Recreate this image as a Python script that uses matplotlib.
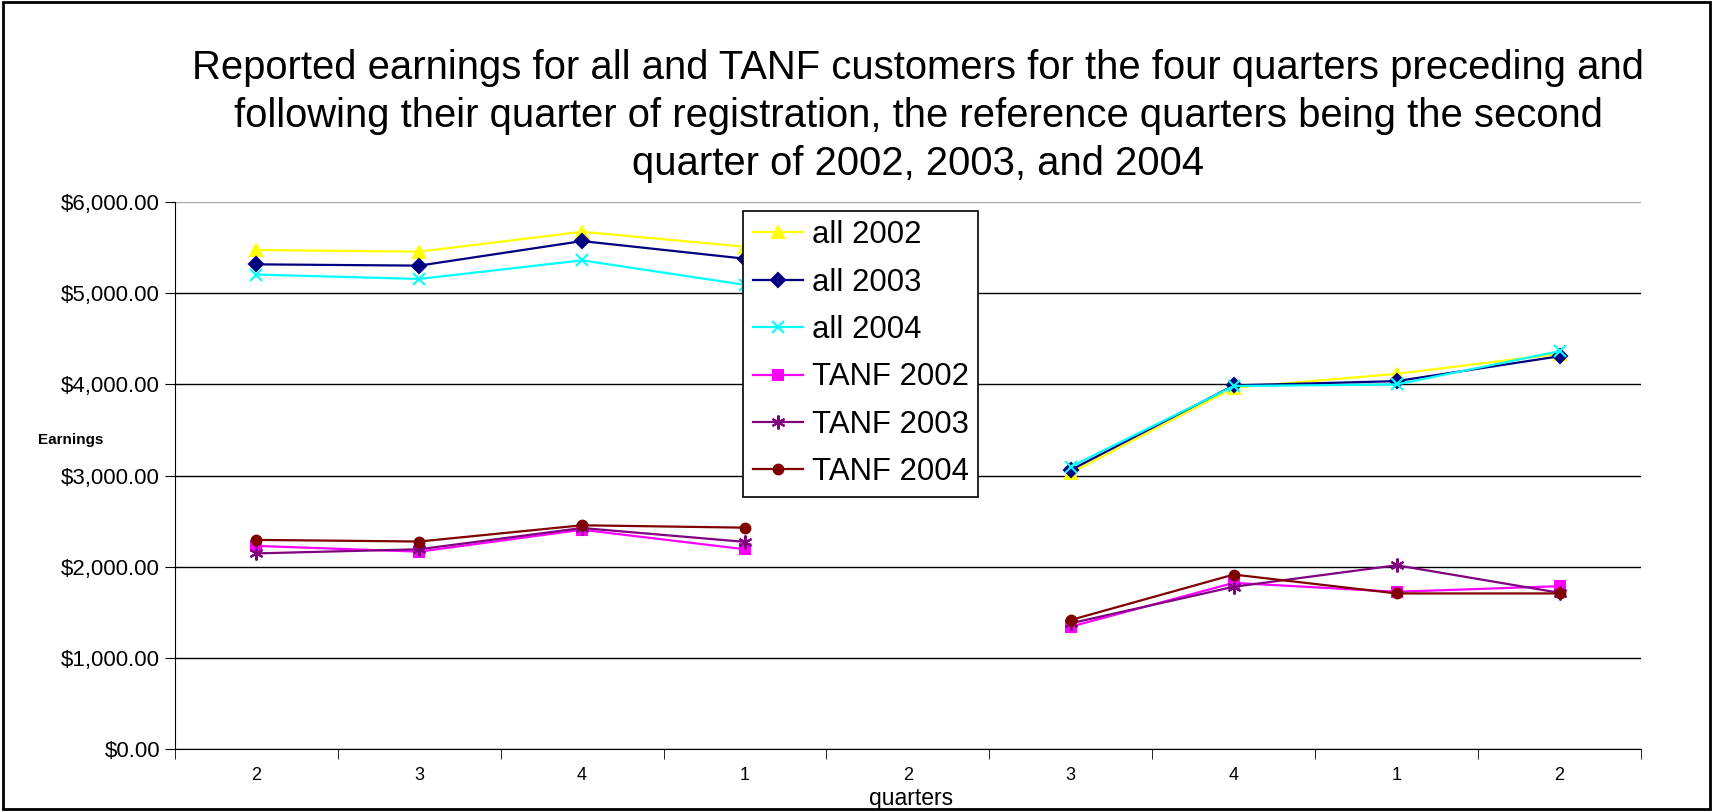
import numpy as np
import matplotlib.pyplot as plt
from matplotlib.ticker import FuncFormatter, FixedLocator

plt.rcParams['font.family'] = ['Liberation Sans', 'DejaVu Sans']

quarters = ['2', '3', '4', '1', '2', '3', '4', '1', '2']
nan = np.nan
all_2002 = [5473, 5455, 5673, 5509, nan, 3030, 3964, 4116, 4335]
all_2003 = [5316, 5302, 5571, 5378, nan, 3062, 3989, 4036, 4309]
all_2004 = [5204, 5156, 5360, 5091, nan, 3098, 3982, 4000, 4364]
tanf_2002 = [2230, 2167, 2407, 2193, nan, 1345, 1825, 1727, 1789]
tanf_2003 = [2148, 2193, 2426, 2274, nan, 1382, 1782, 2018, 1716]
tanf_2004 = [2296, 2278, 2456, 2430, nan, 1418, 1916, 1709, 1709]

series = [
    ('all 2002', all_2002, '#FFFF00', '^', 9),
    ('all 2003', all_2003, '#000080', 'D', 7),
    ('all 2004', all_2004, '#00FFFF', 'x', 9),
    ('TANF 2002', tanf_2002, '#FF00FF', 's', 7),
    ('TANF 2003', tanf_2003, '#800080', (6, 2, 0), 10),
    ('TANF 2004', tanf_2004, '#800000', 'o', 7),
]

fig = plt.figure(figsize=(17.13, 8.11), dpi=100)
ax = fig.add_axes([0.102, 0.076, 0.856, 0.675])

x = np.arange(len(quarters))
for name, vals, col, mk, ms in series:
    ax.plot(x, vals, color=col, marker=mk, markersize=ms, lw=1.6,
            markeredgewidth=1.5, label=name)

ax.set_xlim(-0.5, len(quarters) - 0.5)
ax.set_ylim(0, 6000)
ax.set_yticks(np.arange(0, 6001, 1000))
ax.yaxis.set_major_formatter(FuncFormatter(lambda v, p: f'${v:,.2f}'))
ax.grid(axis='y', color='black', lw=1)
ax.get_ygridlines()[-1].set_color('#aaaaaa')
ax.set_axisbelow(True)

ax.set_xticks(x)
ax.set_xticklabels(quarters, fontsize=13)
ax.xaxis.set_minor_locator(FixedLocator(np.arange(-0.5, len(quarters), 1)))
ax.tick_params(axis='x', which='major', length=0, pad=13)
ax.tick_params(axis='x', which='minor', length=7, color='black')
ax.tick_params(axis='y', labelsize=16, length=7, color='black')

for s in ['top', 'right']:
    ax.spines[s].set_visible(False)
ax.spines['left'].set_color('black')
ax.spines['bottom'].set_color('black')

fig.text(0.532, 0.015, 'quarters', fontsize=16.5, ha='center', va='center')
fig.text(0.022, 0.457, 'Earnings', fontsize=11, fontweight='bold', va='center')

fig.text(0.536, 0.857, 'Reported earnings for all and TANF customers for the four quarters preceding and\n'
         'following their quarter of registration, the reference quarters being the second\n'
         'quarter of 2002, 2003, and 2004',
         ha='center', va='center', fontsize=28.8, linespacing=1.34)

leg = fig.legend(loc='upper left', bbox_to_anchor=(0.434, 0.74), fontsize=22.4,
                 frameon=True, fancybox=False, edgecolor='black', framealpha=1,
                 handlelength=1.6, handletextpad=0.3, labelspacing=0.56,
                 borderpad=0.3, borderaxespad=0)
leg.get_frame().set_linewidth(1.2)

fig.patches.append(plt.Rectangle((0.002, 0.002), 0.996, 0.996, transform=fig.transFigure,
                                 fill=False, edgecolor='black', lw=2))

fig.savefig('out.png', dpi=100)
